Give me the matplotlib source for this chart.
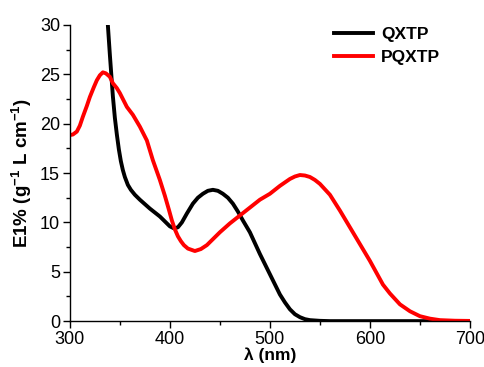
import matplotlib
matplotlib.use('Agg')
import matplotlib.pyplot as plt
from matplotlib.ticker import MultipleLocator

plt.rcParams['font.family'] = ['Liberation Sans', 'DejaVu Sans']
plt.rcParams['mathtext.fontset'] = 'custom'
plt.rcParams['mathtext.rm'] = 'Liberation Sans:bold'
plt.rcParams['mathtext.default'] = 'rm'

# QXTP (black)
qxtp_wl = [336, 338, 340, 343, 345, 347, 349, 351, 353, 355, 358, 361, 365, 370,
           380, 390, 400, 404, 408, 412, 417, 423, 428, 433, 438, 443, 448, 453,
           458, 463, 468, 473, 480, 490, 500, 510, 515, 520, 525, 530, 535, 540,
           550, 560, 600, 650, 700]
qxtp_e = [32.5, 30.0, 27.0, 22.8, 20.6, 18.9, 17.4, 16.2, 15.3, 14.6, 13.8, 13.3,
          12.8, 12.3, 11.4, 10.6, 9.6, 9.4, 9.5, 10.0, 10.9, 11.9, 12.5, 12.9,
          13.2, 13.3, 13.2, 12.9, 12.5, 11.9, 11.1, 10.2, 9.0, 6.8, 4.75, 2.7,
          1.9, 1.2, 0.7, 0.4, 0.2, 0.1, 0.03, 0.0, 0.0, 0.0, 0.0]

# PQXTP (red)
pqxtp_wl = [300, 303, 307, 310, 313, 317, 320, 324, 327, 330, 333, 336, 340, 343,
            347, 350, 357, 363, 370, 377, 383, 390, 395, 399, 402, 405, 408, 411,
            414, 418, 425, 431, 437, 443, 450, 460, 470, 480, 490, 500, 510, 520,
            525, 530, 535, 540, 545, 550, 560, 570, 580, 590, 600, 613, 620, 630,
            640, 650, 660, 670, 685, 700]
pqxtp_e = [18.85, 18.9, 19.2, 19.8, 20.7, 21.8, 22.7, 23.7, 24.4, 24.9, 25.2,
           25.1, 24.75, 24.1, 23.6, 23.1, 21.7, 20.9, 19.7, 18.3, 16.3, 14.3,
           12.7, 11.3, 10.2, 9.3, 8.6, 8.1, 7.7, 7.35, 7.1, 7.3, 7.7, 8.3, 9.0,
           9.9, 10.7, 11.5, 12.3, 12.9, 13.7, 14.4, 14.65, 14.8, 14.75, 14.6,
           14.3, 13.9, 12.8, 11.2, 9.5, 7.8, 6.1, 3.7, 2.8, 1.7, 1.0, 0.5, 0.25,
           0.1, 0.04, 0.02]

fig = plt.figure(figsize=(4.85, 3.67), dpi=100)
ax = fig.add_axes([0.144, 0.125, 0.825, 0.807])

ax.plot(qxtp_wl, qxtp_e, color='black', lw=2.8, label='QXTP', solid_joinstyle='round')
ax.plot(pqxtp_wl, pqxtp_e, color='red', lw=2.8, label='PQXTP', solid_joinstyle='round')

ax.set_xlim(300, 700)
ax.set_ylim(0, 30)
ax.xaxis.set_major_locator(MultipleLocator(100))
ax.xaxis.set_minor_locator(MultipleLocator(50))
ax.yaxis.set_major_locator(MultipleLocator(5))
ax.yaxis.set_minor_locator(MultipleLocator(2.5))
for s in ['top', 'right']:
    ax.spines[s].set_visible(False)
for s in ['left', 'bottom']:
    ax.spines[s].set_linewidth(1.0)
ax.tick_params(which='major', direction='out', length=5, width=1, labelsize=13, pad=2)
ax.tick_params(which='minor', direction='out', length=3, width=1)

ax.set_xlabel(r'λ (nm)', fontsize=12.5, fontweight='bold', labelpad=0)
ax.set_ylabel(r'E1% (g$^{-1}$ L cm$^{-1}$)', fontsize=13.5, fontweight='bold', labelpad=4)

ax.legend(loc='upper right', bbox_to_anchor=(0.965, 1.045), frameon=False,
          prop={'weight': 'bold', 'size': 12.5}, handlelength=2.2,
          handletextpad=0.5, labelspacing=0.45)

fig.savefig('out.png', dpi=100)
